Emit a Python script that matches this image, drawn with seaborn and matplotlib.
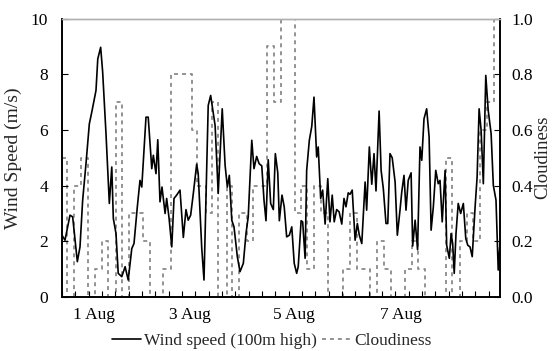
import matplotlib
matplotlib.use("Agg")
import matplotlib.pyplot as plt
import seaborn as sns
import pandas as pd
from matplotlib.lines import Line2D
from matplotlib.ticker import MultipleLocator

sns.set_style("ticks")
plt.rcParams['font.family'] = ['Liberation Serif', 'DejaVu Serif']
plt.rcParams['font.size'] = 12

# ---- data (x in hours from start of the record) ----
wind_hours = [0.0, 1.35, 3.6, 4.8, 6.9, 8.1, 9.3, 10.8, 12.3, 13.4, 15.3, 16.1, 17.4, 18.3,
              19.8, 21.3, 22.4, 23.1, 24.3, 25.3, 26.9, 28.4, 29.8, 31.4, 32.4, 33.9, 35.1,
              35.9, 37.8, 38.8, 40.4, 41.1, 42.3, 43.1, 44.1, 45.0, 46.4, 47.1, 48.2, 49.4,
              50.4, 51.6, 53.1, 54.6, 55.8, 56.8, 57.9, 59.1, 60.6, 61.3, 62.9, 63.9, 65.8,
              66.9, 68.9, 70.3, 72.1, 73.4, 74.4, 75.3, 76.4, 77.4, 78.9, 80.1, 81.6, 82.8,
              83.8, 85.4, 86.4, 87.6, 88.7, 89.9, 90.9, 91.8, 92.8, 93.9, 95.1, 96.0, 97.1,
              97.8, 99.0, 100.0, 101.1, 102.3, 103.4, 104.5, 105.6, 106.3, 107.6, 108.3,
              109.4, 110.1, 111.3, 112.4, 113.4, 114.6, 115.3, 116.4, 117.3, 118.4, 119.6,
              120.6, 121.6, 122.5, 123.6, 124.7, 125.9, 126.9, 127.8, 128.8, 129.6, 130.6,
              131.9, 132.9, 133.8, 134.9, 136.4, 137.1, 138.3, 139.4, 140.4, 141.3, 142.7,
              143.6, 144.6, 145.8, 146.6, 147.6, 148.6, 149.9, 150.9, 152.1, 152.9, 153.9,
              154.8, 155.8, 157.1, 157.8, 158.9, 160.0, 161.1, 161.9, 162.9, 164.1, 165.2,
              166.1, 167.1, 168.2, 169.3, 170.1, 171.1, 172.4, 173.1, 174.3, 175.1, 175.8,
              176.5, 177.3, 178.3, 179.4, 180.6, 181.7, 182.6, 183.6, 184.6, 185.9, 186.8,
              187.7, 188.6, 189.6, 190.7, 191.8, 193.1, 194.1, 195.3, 196.3, 197.1]
wind_speed = [2.22, 2.04, 2.94, 2.88, 1.27, 1.80, 3.48, 4.79, 6.22, 6.64, 7.42, 8.55, 8.97, 8.08,
              5.87, 3.36, 4.67, 2.82, 2.28, 0.85, 0.73, 1.09, 0.61, 1.74, 1.92, 3.24, 4.19,
              3.95, 6.46, 6.46, 4.61, 5.09, 4.43, 5.65, 3.42, 3.95, 3.00, 3.54, 2.82, 1.80,
              3.54, 3.66, 3.84, 2.14, 3.14, 2.76, 2.94, 3.72, 4.77, 4.43, 1.74, 0.61, 6.88,
              7.24, 6.16, 3.72, 6.76, 4.73, 3.95, 4.37, 2.76, 2.52, 1.45, 0.91, 1.21, 2.28,
              2.88, 5.63, 4.61, 5.05, 4.79, 4.71, 3.48, 2.74, 4.93, 3.36, 3.14, 5.15, 4.46,
              2.74, 3.66, 3.24, 2.16, 2.22, 2.52, 1.21, 0.85, 1.09, 2.74, 2.70,
              1.39, 4.55, 5.63, 6.13, 7.18, 5.03, 5.39, 3.54, 3.84, 2.62, 4.25,
              2.70, 3.66, 2.70, 3.14, 3.06, 2.62, 3.54, 3.24, 3.74, 3.69, 3.84,
              2.04, 2.64, 2.22, 1.92, 4.13, 3.12, 5.39, 4.05, 5.15, 3.81, 6.68,
              4.55, 3.89, 2.64, 2.64, 5.15, 5.00, 4.13, 2.22, 3.12, 3.78, 4.37,
              3.12, 4.19, 4.46, 1.83, 2.76, 1.70, 5.39, 4.91, 6.40, 6.76, 5.75,
              2.40, 3.24, 4.55, 4.07, 4.19, 2.70, 4.55, 1.86, 1.39, 2.28, 1.92,
              0.85, 2.28, 3.36, 3.00, 3.36, 2.10, 1.86, 1.80, 1.45, 3.24, 4.31,
              6.76, 5.99, 4.07, 7.96, 6.70, 5.87, 4.01, 3.48, 0.97, 1.92]

cloud_hours = [0.0, 2.1, 5.4, 8.7, 11.8, 14.9, 17.9, 20.8, 24.3, 26.9, 30.3, 36.6, 39.6, 45.6,
               48.9, 58.3, 60.9, 64.6, 67.4, 70.3, 74.1, 76.4, 79.8, 83.1, 85.8, 92.3, 95.3,
               98.4, 104.7, 107.6, 110.4, 113.3, 116.4, 119.8, 126.3, 129.4, 132.7, 138.6,
               141.9, 144.9, 147.9, 154.4, 157.4, 160.1, 163.4, 172.7, 175.4, 178.9, 182.1,
               185.1, 188.1, 191.1, 194.6, 197.1]
cloudiness = [0.5, 0.0, 0.4, 0.5, 0.0, 0.1, 0.2, 0.0, 0.7, 0.0, 0.3, 0.2, 0.0, 0.1,
              0.8, 0.6, 0.4, 0.3, 0.7, 0.0, 0.4, 0.0, 0.3, 0.2, 0.4, 0.9, 0.7,
              1.0, 0.3, 0.4, 0.1, 0.4, 0.3, 0.0, 0.1, 0.3, 0.1, 0.0,
              0.2, 0.1, 0.0, 0.1, 0.2, 0.1, 0.0, 0.5, 0.0, 0.2, 0.3,
              0.2, 0.6, 0.7, 1.0, 1.0]

date_tick_hours = [14.2, 57.6, 104.2, 152.3]
date_tick_labels = ["1 Aug", "3 Aug", "5 Aug", "7 Aug"]

wind_df = pd.DataFrame({"hour": wind_hours, "wind": wind_speed})
cloud_df = pd.DataFrame({"hour": cloud_hours, "cloud": cloudiness})

fig = plt.figure(figsize=(5.55, 3.51), dpi=100)
ax = fig.add_axes([0.1117, 0.1538, 0.7892, 0.7932])
ax2 = ax.twinx()

cloud_style = dict(color="#8a8a8a", linewidth=1.3, linestyle=(0, (2.2, 2.2)))
sns.lineplot(data=cloud_df, x="hour", y="cloud", ax=ax2, estimator=None, sort=False,
             drawstyle="steps-post", **cloud_style)
sns.lineplot(data=wind_df, x="hour", y="wind", ax=ax, estimator=None, sort=False,
             color="black", linewidth=1.2)

ax.set_zorder(ax2.get_zorder() + 1)
ax.patch.set_visible(False)

ax.set_xlim(0, 197.1)
ax.set_ylim(0, 10)
ax2.set_ylim(0, 1.0)
ax.set_yticks([0, 2, 4, 6, 8, 10])
ax2.set_yticks([0.0, 0.2, 0.4, 0.6, 0.8, 1.0])
ax2.set_yticklabels([f"{v:.1f}" for v in [0.0, 0.2, 0.4, 0.6, 0.8, 1.0]])
ax.set_xticks(date_tick_hours)
ax.set_xticklabels(date_tick_labels)
ax.xaxis.set_minor_locator(MultipleLocator(6))

ax.set_xlabel("")
ax.set_ylabel("Wind Speed (m/s)", fontsize=14, labelpad=6)
ax2.set_ylabel("Cloudiness", fontsize=13.5, labelpad=1)

for a in (ax, ax2):
    a.tick_params(axis="both", which="both", direction="in", labelsize=12.5, colors="black")
    a.tick_params(which="major", length=4, width=0.8)
    a.tick_params(which="minor", length=4, width=0.8)
ax.tick_params(axis="x", which="major", length=0, pad=7)
ax.tick_params(axis="y", pad=10)
ax2.tick_params(axis="y", pad=8)

for a in (ax, ax2):
    for side in ("left", "right", "bottom"):
        a.spines[side].set_color("black")
        a.spines[side].set_linewidth(1.2)
    a.spines["top"].set_color("#b0b0b0")
    a.spines["top"].set_linewidth(1.0)

handles = [Line2D([], [], color="black", linewidth=1.2),
           Line2D([], [], **cloud_style)]
fig.legend(handles, ["Wind speed (100m high)", "Cloudiness"], loc="center",
           bbox_to_anchor=(0.489, 0.029), ncol=2, frameon=False, fontsize=12.5,
           handlelength=1.7, handletextpad=0.15, columnspacing=0.3)

fig.savefig("out.png", dpi=100)
